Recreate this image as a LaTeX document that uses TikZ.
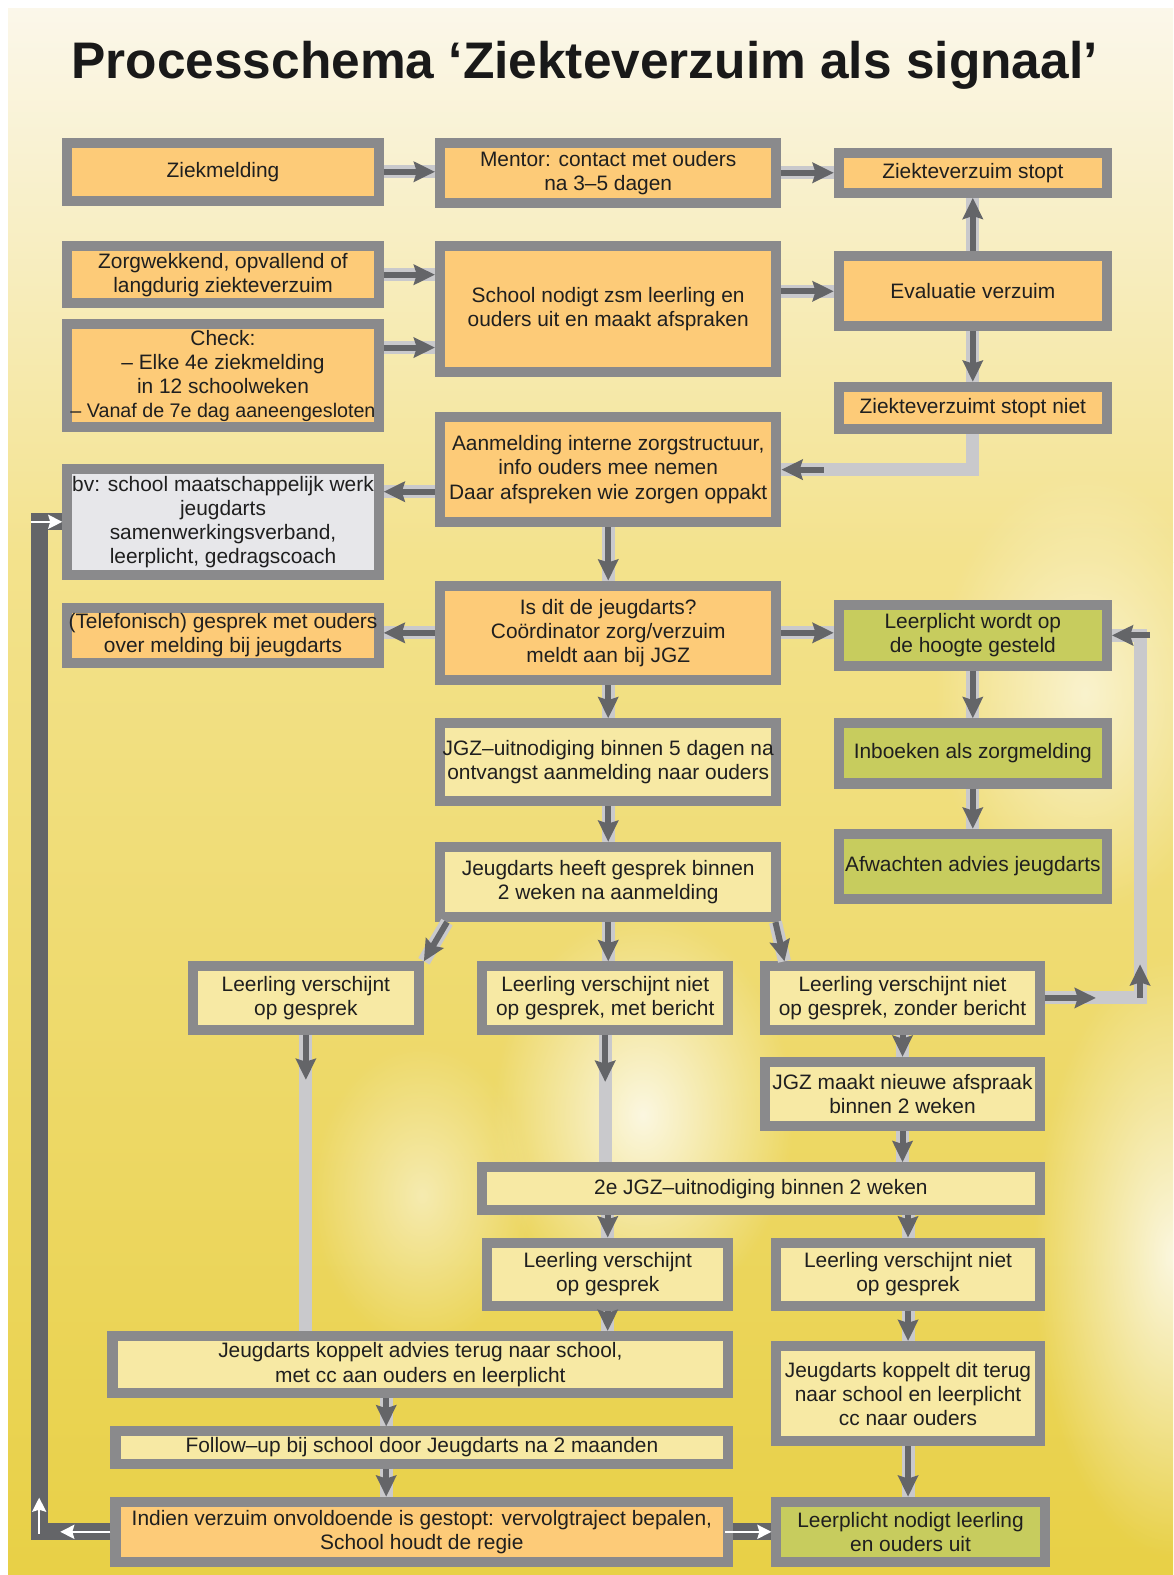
\documentclass[tikz,border=0pt]{standalone}
\usepackage{fontspec}
\setmainfont{Liberation Sans}
\usetikzlibrary{arrows.meta,fadings}

\definecolor{randgrijs}{HTML}{8A8A8C}
\definecolor{oranje}{HTML}{FDCB78}
\definecolor{lichtgeel}{HTML}{F7E9A4}
\definecolor{groen}{HTML}{C7CC5E}
\definecolor{lichtgrijs}{HTML}{E7E7EA}
\definecolor{pijlgrijs}{HTML}{646568}
\definecolor{baangrijs}{HTML}{C9C9CC}
\definecolor{bgboven}{HTML}{FBF7EA}
\definecolor{bgmidden}{HTML}{F3E28C}
\definecolor{bggeel}{HTML}{EEDA66}
\definecolor{bgonder}{HTML}{E8D046}

\tikzfading[name=zacht, inner color=transparent!0, outer color=transparent!100]

\newcommand{\tekstfont}{\fontsize{10.4}{12}\selectfont}
\newcommand{\titelfont}{\fontsize{25.6}{30}\selectfont\bfseries}

\begin{document}
\begin{tikzpicture}[x=0.5pt, y=-0.5pt,
  blok/.style={draw=randgrijs, line width=5pt, fill=oranje, align=center,
    inner sep=0pt, outer sep=2.5pt, font=\tekstfont, text=black!88},
  maat/.style 2 args={minimum width=#1*0.5pt-5pt, minimum height=#2*0.5pt-5pt},
  geelblok/.style={blok, fill=lichtgeel},
  groenblok/.style={blok, fill=groen},
  grijsblok/.style={blok, fill=lichtgrijs},
  baan/.style={draw=baangrijs, line width=6.5pt},
  pijlkaal/.style={draw=pijlgrijs, line width=3pt, -{Stealth[length=10.5pt, width=10pt, inset=1.5pt]}},
  pijl/.style={pijlkaal, preaction={draw=baangrijs, line width=6.5pt, -}},
  donkerbaan/.style={draw=pijlgrijs, line width=8.5pt},
  wit/.style={draw=white, line width=1.2pt, -{Stealth[length=7pt, width=7pt, inset=1pt]}},
  vlek/.style={fill=white, path fading=zacht}]

  \useasboundingbox (0,0) rectangle (1168,1568);
  \fill[white] (0,0) rectangle (1168,1568);
  \begin{scope}
    \clip (8,8) rectangle (1168,1568);
    \shade[top color=bgboven, bottom color=bgmidden] (8,8) rectangle (1168,560);
    \shade[top color=bgmidden, middle color=bggeel, bottom color=bgonder] (8,560) rectangle (1168,1568);
    \fill[vlek, opacity=0.8] (640,1110) ellipse (150 and 200);
    \fill[vlek, opacity=0.8] (1168,1250) ellipse (140 and 300);
    \fill[vlek, opacity=0.6] (1080,690) ellipse (150 and 220);
    \fill[vlek, opacity=0.5] (420,1190) ellipse (110 and 150);
  \end{scope}

  \node[font=\titelfont, text=black!90, anchor=base] (titel) at (582,78) {Processchema ‘Ziekteverzuim als signaal’};

  % kolom links
  \node[blok, maat={320}{68}] (zm) at (222,171) {Ziekmelding};
  \node[blok, maat={320}{67}] (zorg) at (222,273.5) {Zorgwekkend, opvallend of\\langdurig ziekteverzuim};
  \node[blok, maat={320}{112}] (check) at (222,374) {Check:\\– Elke 4e ziekmelding\\in 12 schoolweken\\{\fontsize{9.8}{12}\selectfont – Vanaf de 7e dag aaneengesloten}};
  \node[grijsblok, maat={320}{115}] (bv) at (222,519.5) {bv: school maatschappelijk werk\\jeugdarts\\samenwerkingsverband,\\leerplicht, gedragscoach};
  \node[blok, maat={320}{65}] (tel) at (222,632.5) {(Telefonisch) gesprek met ouders\\over melding bij jeugdarts};

  % kolom midden
  \node[blok, maat={345}{70}] (mentor) at (605.5,172) {Mentor: contact met ouders\\na 3–5 dagen};
  \node[blok, maat={345}{135}] (school) at (605.5,307.5) {School nodigt zsm leerling en\\ouders uit en maakt afspraken};
  \node[blok, maat={345}{115}] (aanm) at (605.5,467.5) {Aanmelding interne zorgstructuur,\\info ouders mee nemen\\Daar afspreken wie zorgen oppakt};
  \node[blok, maat={345}{104}] (isdit) at (605.5,630) {Is dit de jeugdarts?\\Coördinator zorg/verzuim\\meldt aan bij JGZ};
  \node[geelblok, maat={345}{87}] (jgz) at (605.5,758.5) {JGZ–uitnodiging binnen 5 dagen na\\ontvangst aanmelding naar ouders};
  \node[geelblok, maat={345}{80}] (jh) at (605.5,878) {Jeugdarts heeft gesprek binnen\\2 weken na aanmelding};

  % kolom rechts
  \node[blok, maat={277}{50}] (zs) at (968.5,172) {Ziekteverzuim stopt};
  \node[blok, maat={277}{80}] (eval) at (968.5,290) {Evaluatie verzuim};
  \node[blok, maat={277}{52}] (zsn) at (968.5,406) {Ziekteverzuimt stopt niet};
  \node[groenblok, maat={277}{71}] (lp) at (968.5,632.5) {Leerplicht wordt op\\de hoogte gesteld};
  \node[groenblok, maat={277}{70}] (inb) at (968.5,750) {Inboeken als zorgmelding};
  \node[groenblok, maat={277}{75}] (afw) at (968.5,862.5) {Afwachten advies jeugdarts};

  % onderste deel
  \node[geelblok, maat={235}{73}] (lv1) at (304.5,993.5) {Leerling verschijnt\\op gesprek};
  \node[geelblok, maat={255}{73}] (lv2) at (602.5,993.5) {Leerling verschijnt niet\\op gesprek, met bericht};
  \node[geelblok, maat={283}{73}] (lv3) at (898.5,993.5) {Leerling verschijnt niet\\op gesprek, zonder bericht};
  \node[geelblok, maat={283}{74}] (jgzn) at (898.5,1089) {JGZ maakt nieuwe afspraak\\binnen 2 weken};
  \node[geelblok, maat={565}{53}] (jgz2) at (757.5,1183.5) {2e JGZ–uitnodiging binnen 2 weken};
  \node[geelblok, maat={250}{73}] (lv4) at (605,1268.5) {Leerling verschijnt\\op gesprek};
  \node[geelblok, maat={272}{73}] (lv5) at (904,1268.5) {Leerling verschijnt niet\\op gesprek};
  \node[geelblok, maat={623}{67}] (jka) at (418.5,1358.5) {Jeugdarts koppelt advies terug naar school,\\met cc aan ouders en leerplicht};
  \node[geelblok, maat={272}{105}] (jkd) at (904,1387.5) {Jeugdarts koppelt dit terug\\naar school en leerplicht\\cc naar ouders};
  \node[geelblok, maat={620}{42}] (fu) at (420,1441) {Follow–up bij school door Jeugdarts na 2 maanden};
  \node[blok, maat={620}{70}] (ind) at (420,1525) {Indien verzuim onvoldoende is gestopt: vervolgtraject bepalen,\\School houdt de regie};
  \node[groenblok, maat={277}{70}] (lpn) at (906.5,1525) {Leerplicht nodigt leerling\\en ouders uit};

  \coordinate (rlus) at (1135,960);
  \coordinate (llus) at (39,1400);

  % verbindingen
  \draw[pijl] (zm.east) -- (zm.east -| mentor.west);
  \draw[pijl] (mentor.east) -- (mentor.east -| zs.west);
  \draw[pijl] (zorg.east) -- (zorg.east -| school.west);
  \draw[pijl] ([yshift=14pt]check.east) -- ([yshift=14pt]check.east -| school.west);
  \draw[pijl] (eval.west -| school.east) -- (eval.west);
  \draw[pijl] (eval.north) -- (zs.south);
  \draw[pijl] (eval.south) -- (zsn.north);
  \draw[baan] (zsn.south) |- (aanm.east);
  \draw[pijlkaal] ([xshift=21pt]aanm.east) -- (aanm.east);
  \draw[pijl] ([yshift=-11pt]aanm.west) -- ([yshift=-11pt]aanm.west -| bv.east);
  \draw[pijl] (aanm.south) -- (isdit.north);
  \draw[pijl] (isdit.west) -- (isdit.west -| tel.east);
  \draw[pijl] (isdit.east) -- (isdit.east -| lp.west);
  \draw[pijl] (isdit.south) -- (jgz.north);
  \draw[pijl] (lp.south) -- (inb.north);
  \draw[pijl] (inb.south) -- (afw.north);
  \draw[pijl] (jgz.south) -- (jh.north);
  \draw[pijl] ([xshift=6pt]jh.south west) -- (lv1.north east);
  \draw[pijl] (jh.south) -- (jh.south |- lv2.north);
  \draw[pijl] ([xshift=-3pt]jh.south east) -- ([xshift=12pt]lv3.north west);
  \draw[baan] (lv1.south) -- (lv1.south |- jka.north);
  \draw[pijlkaal, shorten >=125pt] (lv1.south) -- (lv1.south |- jka.north);
  \draw[baan] (lv2.south) -- (lv2.south |- jgz2.north);
  \draw[pijlkaal, shorten >=40pt] (lv2.south) -- (lv2.south |- jgz2.north);
  \draw[pijl] (lv3.south) -- (jgzn.north);
  \draw[pijl] (jgzn.south) -- (jgzn.south |- jgz2.north);
  \draw[pijl] (lv4.north |- jgz2.south) -- (lv4.north);
  \draw[pijl] (lv5.north |- jgz2.south) -- (lv5.north);
  \draw[pijl] (lv4.south) -- (lv4.south |- jka.north);
  \draw[pijl] (lv5.south) -- (jkd.north);
  \draw[pijl] ([xshift=-17pt]jka.south) -- ([xshift=-17pt]jka.south |- fu.north);
  \draw[pijl] ([xshift=-17pt]jka.south |- fu.south) -- ([xshift=-17pt]jka.south |- ind.north);
  \draw[pijl] (jkd.south) -- (jkd.south |- lpn.north);

  % lus rechts
  \draw[baan] (lv3.east) -| (rlus) |- (lp.east);
  \draw[pijlkaal] (lv3.east) -- ([xshift=-22pt]lv3.east -| rlus);
  \draw[pijlkaal] (lv3.east -| rlus) -- (rlus);
  \draw[pijlkaal] ([xshift=5pt]lp.east -| rlus) -- (lp.east);

  % lus links
  \draw[donkerbaan] (ind.west) -| (llus) |- (bv.west);
  \draw[wit] (ind.west) -- ([xshift=-25pt]ind.west);
  \draw[wit] ([yshift=-1pt]ind.west -| llus) -- ([yshift=17pt]ind.west -| llus);
  \draw[wit] ([xshift=-4pt]bv.west -| llus) -- (bv.west);
  \draw[donkerbaan] (ind.east) -- (lpn.west);
  \draw[wit] ([xshift=-4pt]ind.east) -- (lpn.west);

\end{tikzpicture}
\end{document}
